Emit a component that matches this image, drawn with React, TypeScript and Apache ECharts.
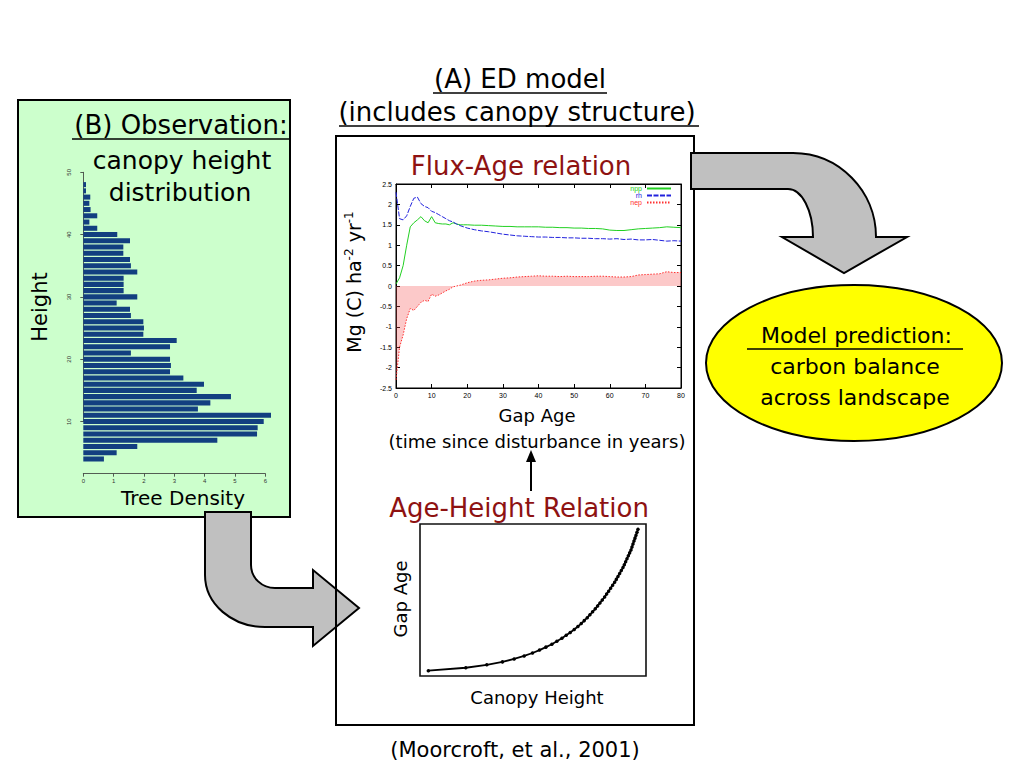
import React, { useEffect, useRef } from 'react';
import * as echarts from 'echarts';

// ---------- (B) canopy height distribution ----------
const histHeights = [48, 47, 46, 45, 44, 43, 42, 41, 40, 39, 38, 37, 36, 35, 34, 33, 32, 31, 30, 29, 28, 27, 26, 25, 24, 23, 22, 21, 20, 19, 18, 17, 16, 15, 14, 13, 12, 11, 10, 9, 8, 7, 6, 5, 4];
const histDensity = [0.09, 0.09, 0.23, 0.2, 0.24, 0.46, 0.2, 0.46, 1.12, 1.54, 1.32, 1.32, 1.54, 1.57, 1.78, 1.33, 1.33, 1.33, 1.78, 1.1, 1.54, 1.57, 1.98, 2.0, 1.98, 3.08, 2.86, 1.57, 2.86, 2.89, 2.86, 3.3, 3.98, 3.74, 4.87, 4.19, 3.78, 6.19, 5.95, 5.75, 5.73, 4.42, 1.78, 1.1, 0.68];
const histXTicks = [0, 1, 2, 3, 4, 5, 6];
const histYTicks = [10, 20, 30, 40, 50];

// ---------- (A) Flux-Age relation ----------
const fluxAges = [0, 1, 2, 3, 4, 5, 6, 7, 8, 9, 10, 11, 12, 13, 14, 15, 16, 17, 18, 19, 20, 22, 24, 26, 28, 30, 32, 34, 36, 38, 40, 42, 44, 46, 48, 50, 52, 54, 56, 58, 60, 62, 64, 66, 68, 70, 72, 74, 76, 78, 80];
const npp = [0.05, 0.2, 0.5, 1.0, 1.45, 1.55, 1.62, 1.7, 1.6, 1.55, 1.7, 1.55, 1.53, 1.52, 1.52, 1.5, 1.55, 1.52, 1.5, 1.5, 1.5, 1.49, 1.49, 1.48, 1.47, 1.46, 1.46, 1.45, 1.45, 1.45, 1.45, 1.44, 1.44, 1.43, 1.43, 1.42, 1.42, 1.41, 1.41, 1.4, 1.37, 1.36, 1.36, 1.38, 1.4, 1.41, 1.42, 1.43, 1.45, 1.44, 1.43];
const rh = [2.3, 1.65, 1.62, 1.72, 1.95, 2.15, 2.18, 2.02, 1.95, 1.92, 1.83, 1.8, 1.75, 1.7, 1.65, 1.6, 1.57, 1.52, 1.48, 1.45, 1.42, 1.38, 1.35, 1.33, 1.3, 1.27, 1.25, 1.23, 1.22, 1.21, 1.2, 1.2, 1.19, 1.19, 1.18, 1.18, 1.17, 1.17, 1.16, 1.16, 1.15, 1.16, 1.14, 1.15, 1.13, 1.13, 1.14, 1.12, 1.1, 1.11, 1.1];
const nep = [-2.3, -1.5, -1.2, -0.8, -0.55, -0.6, -0.5, -0.4, -0.35, -0.38, -0.2, -0.25, -0.22, -0.17, -0.12, -0.08, -0.02, 0.0, 0.02, 0.05, 0.08, 0.12, 0.14, 0.15, 0.17, 0.19, 0.2, 0.22, 0.23, 0.24, 0.25, 0.24, 0.24, 0.23, 0.24, 0.23, 0.23, 0.23, 0.24, 0.24, 0.23, 0.22, 0.22, 0.23, 0.27, 0.28, 0.29, 0.3, 0.35, 0.33, 0.33];

// ---------- Age-Height relation (relative units) ----------
const gapAge = [0, 1, 2, 3, 4, 5, 6, 7, 8, 9, 10, 11, 12, 13, 14, 15, 16, 17, 18, 19, 20, 21, 22, 23, 24, 25, 26, 27, 28, 29, 30, 31, 32, 33, 34, 35, 36, 37, 38, 39, 40, 41, 42, 43, 44, 45, 46, 47, 48];
const canopyHeight = [14.5, 25.7, 32.0, 36.7, 40.2, 43.2, 45.7, 47.8, 49.7, 51.5, 53.0, 54.5, 55.8, 57.0, 58.2, 59.3, 60.3, 61.2, 62.1, 62.9, 63.7, 64.5, 65.2, 65.9, 66.6, 67.3, 67.9, 68.5, 69.1, 69.7, 70.3, 70.8, 71.3, 71.8, 72.3, 72.8, 73.2, 73.6, 74.0, 74.4, 74.8, 75.2, 75.5, 75.8, 76.1, 76.4, 76.7, 77.0, 77.3];

const COMIC = "'DejaVu Sans', sans-serif";
const ARIAL = "'Liberation Sans', Arial, sans-serif";
const DARKRED = '#8e1212';

const ARROW_RIGHT_DOWN = 'M691,153 L793,153 C839,153 876,191 876,237 L907,237 L844,273 L782,237 L813,237 C813,211 802,189 788,189 L691,189 Z';
const ARROW_DOWN_RIGHT = 'M205,512 L251,512 L251,565 C251,578 262,588 275,588 L313,588 L313,570 L359,608 L313,646 L313,627 L265,627 C232,627 205,604 205,575 Z';

function txt(text: string, x: number, y: number, size: number, opts: any = {}) {
  return {
    type: 'text',
    x,
    y,
    z: 20,
    rotation: opts.rotation || 0,
    style: {
      text,
      fill: opts.fill || '#000',
      font: `${size}px ${opts.family || COMIC}`,
      textAlign: 'center',
      textVerticalAlign: 'middle',
      align: 'center',
      verticalAlign: 'middle',
    },
  };
}

function uline(x1: number, x2: number, y: number, w = 1.6) {
  return { type: 'line', z: 20, shape: { x1, y1: y, x2, y2: y }, style: { stroke: '#000', lineWidth: w } };
}

export default function App() {
  const ref = useRef<HTMLDivElement>(null);

  useEffect(() => {
    echarts.graphic.registerShape('arrowRD', echarts.graphic.extendPath(ARROW_RIGHT_DOWN, {}));
    echarts.graphic.registerShape('arrowDR', echarts.graphic.extendPath(ARROW_DOWN_RIGHT, {}));
    const chart = echarts.init(ref.current as HTMLDivElement, null, { renderer: 'svg' });

    const histAxisStyle = { color: '#333', width: 0.8 };
    const fluxAxis = (extra: any) => ({
      type: 'value',
      axisLine: { show: true, onZero: false, lineStyle: { color: '#000', width: 1 } },
      axisTick: { show: true, inside: true, length: 4, lineStyle: { color: '#000' } },
      axisLabel: { show: true, fontSize: 7, color: '#000', fontFamily: ARIAL, margin: 4 },
      splitLine: { show: false },
      ...extra,
    });

    const option: any = {
      animation: false,
      backgroundColor: '#ffffff',
      textStyle: { fontFamily: ARIAL },
      grid: [
        { left: 83.3, top: 181.6, width: 188, height: 280.6 },
        { left: 83.3, top: 172.3, width: 182, height: 249.4 },
        { left: 396, top: 184, width: 285, height: 204, show: true, borderColor: '#000', borderWidth: 1, backgroundColor: 'transparent' },
        { left: 420, top: 524, width: 226, height: 152, show: true, borderColor: '#111', borderWidth: 1.6, backgroundColor: 'transparent' },
      ],
      xAxis: [
        { gridIndex: 0, type: 'value', min: 0, max: 6.2, show: false },
        {
          gridIndex: 1, type: 'value', min: 0, max: 6, interval: 1, offset: 52,
          axisLine: { show: true, lineStyle: histAxisStyle },
          axisTick: { show: true, length: 3, lineStyle: histAxisStyle, customValues: histXTicks },
          axisLabel: { fontSize: 6, color: '#333', margin: 4, customValues: histXTicks },
          splitLine: { show: false },
        },
        fluxAxis({ gridIndex: 2, min: 0, max: 80, interval: 10, position: 'bottom' }),
        fluxAxis({ gridIndex: 2, min: 0, max: 80, interval: 10, position: 'top', axisLabel: { show: false } }),
        { gridIndex: 3, type: 'value', min: 12, max: 79.7, show: false },
      ],
      yAxis: [
        { gridIndex: 0, type: 'value', min: 3.5, max: 48.5, show: false },
        {
          gridIndex: 1, type: 'value', min: 10, max: 50, interval: 10, offset: 7.5,
          axisLine: { show: true, lineStyle: histAxisStyle },
          axisTick: { show: true, length: 3, lineStyle: histAxisStyle, customValues: histYTicks },
          axisLabel: { fontSize: 6, color: '#333', margin: 4, rotate: 90, customValues: histYTicks },
          splitLine: { show: false },
        },
        fluxAxis({ gridIndex: 2, min: -2.5, max: 2.5, interval: 0.5, position: 'left' }),
        fluxAxis({ gridIndex: 2, min: -2.5, max: 2.5, interval: 0.5, position: 'right', axisLabel: { show: false } }),
        { gridIndex: 3, type: 'value', min: -1.8, max: 49.8, show: false },
      ],
      legend: {
        data: [
          { name: 'npp', textStyle: { color: '#22d022' } },
          { name: 'rh', textStyle: { color: '#2222dd' } },
          { name: 'nep', textStyle: { color: '#ff3030' } },
        ],
        orient: 'vertical',
        right: 352,
        top: 185,
        padding: 0,
        itemGap: 0,
        itemWidth: 24,
        itemHeight: 6,
        align: 'right',
        itemStyle: { opacity: 0, borderWidth: 0 },
        textStyle: { fontSize: 7, fontFamily: ARIAL, padding: [0, 0, 0, 0] },
      },
      series: [
        {
          type: 'custom',
          name: 'density',
          xAxisIndex: 0,
          yAxisIndex: 0,
          encode: { x: 1, y: 0 },
          data: histHeights.map((h, i) => [h, histDensity[i]]),
          renderItem: (params: any, api: any) => {
            const h = api.value(0);
            const d = api.value(1);
            const p0 = api.coord([0, h + 0.5]);
            const p1 = api.coord([d, h - 0.5]);
            return {
              type: 'rect',
              shape: { x: p0[0], y: p0[1] + 0.5, width: p1[0] - p0[0], height: p1[1] - p0[1] - 1.2 },
              style: { fill: '#123f80' },
            };
          },
          z: 3,
        },
        {
          type: 'line', name: 'npp', xAxisIndex: 2, yAxisIndex: 2,
          data: fluxAges.map((a, i) => [a, npp[i]]),
          symbol: 'none', color: '#22d022',
          lineStyle: { color: '#22d022', width: 1 },
          z: 4,
        },
        {
          type: 'line', name: 'rh', xAxisIndex: 2, yAxisIndex: 2,
          data: fluxAges.map((a, i) => [a, rh[i]]),
          symbol: 'none', color: '#2222dd',
          lineStyle: { color: '#2222dd', width: 1, type: [5, 1.5] },
          z: 4,
        },
        {
          type: 'line', name: 'nep', xAxisIndex: 2, yAxisIndex: 2,
          data: fluxAges.map((a, i) => [a, nep[i]]),
          symbol: 'none', color: '#ff3030',
          lineStyle: { color: '#ff3030', width: 1, type: [1.5, 1.5] },
          areaStyle: { color: 'rgba(245, 70, 70, 0.42)', origin: 'auto' },
          z: 3,
        },
        {
          type: 'line', name: 'age-height', xAxisIndex: 4, yAxisIndex: 4,
          data: gapAge.map((a, i) => [canopyHeight[i], a]),
          symbol: 'circle', symbolSize: 3.5, color: '#000',
          itemStyle: { color: '#000' },
          lineStyle: { color: '#000', width: 1.8 },
          z: 4,
        },
      ],
      graphic: [
        // box backgrounds
        { type: 'rect', z: -10, shape: { x: 18, y: 100, width: 272, height: 417 }, style: { fill: '#ccffcc', stroke: '#000', lineWidth: 2 } },
        { type: 'rect', z: -10, shape: { x: 336, y: 136, width: 358, height: 589 }, style: { fill: '#ffffff' } },
        { type: 'arrowDR', z: 1, x: 0, y: 0, style: { fill: '#c0c0c0', stroke: '#000', lineWidth: 2 } },
        { type: 'rect', z: 2, shape: { x: 336, y: 136, width: 358, height: 589 }, style: { fill: 'none', stroke: '#000', lineWidth: 2 } },
        { type: 'arrowRD', z: 3, x: 0, y: 0, style: { fill: '#c0c0c0', stroke: '#000', lineWidth: 2 } },
        { type: 'ellipse', z: 3, shape: { cx: 854, cy: 363, rx: 148, ry: 78 }, style: { fill: '#ffff00', stroke: '#000', lineWidth: 2 } },

        // headings
        txt('(A) ED model', 520, 79, 26),
        uline(433, 607, 93),
        txt('(includes canopy structure)', 517, 112, 26),
        uline(339, 699, 126),
        txt('Flux-Age relation', 521, 166, 26, { fill: DARKRED }),
        txt('Age-Height Relation', 519, 508, 26, { fill: DARKRED }),
        {
          type: 'text', z: 20, x: 353, y: 282, rotation: Math.PI / 2,
          style: {
            text: '{n|Mg (C) ha}{s|-2}{n| yr}{s|-1}',
            rich: {
              n: { fontSize: 19, fontFamily: COMIC, fill: '#000', color: '#000', lineHeight: 20, verticalAlign: 'bottom' },
              s: { fontSize: 12, fontFamily: COMIC, fill: '#000', color: '#000', lineHeight: 20, verticalAlign: 'top' },
            },
            textAlign: 'center', textVerticalAlign: 'middle', align: 'center', verticalAlign: 'middle',
          },
        },
        txt('Gap Age', 537, 415, 18),
        txt('(time since disturbance in years)', 537, 441, 18),
        { type: 'line', z: 20, shape: { x1: 531, y1: 491, x2: 531, y2: 458 }, style: { stroke: '#000', lineWidth: 2 } },
        { type: 'polygon', z: 20, shape: { points: [[531, 450], [526, 462], [536, 462]] }, style: { fill: '#000' } },
        txt('Gap Age', 400, 599, 18, { rotation: Math.PI / 2 }),
        txt('Canopy Height', 537, 697, 18),
        txt('(Moorcroft, et al., 2001)', 515, 750, 21),

        // (B)
        txt('(B) Observation:', 181, 125, 26),
        uline(72, 291, 139),
        txt('canopy height', 182, 160, 25),
        txt('distribution', 180, 192, 25),
        txt('Height', 40, 307, 21, { rotation: Math.PI / 2 }),
        txt('Tree Density', 183, 498, 20),

        // prediction
        txt(' Model prediction:', 853, 335, 22),
        uline(747, 963, 349),
        txt('carbon balance', 855, 366, 22),
        txt('across landscape', 855, 397, 22),
      ],
    };

    chart.setOption(option);
    return () => chart.dispose();
  }, []);

  return <div ref={ref} style={{ position: 'absolute', left: 0, top: 0, width: 1024, height: 768 }} />;
}
